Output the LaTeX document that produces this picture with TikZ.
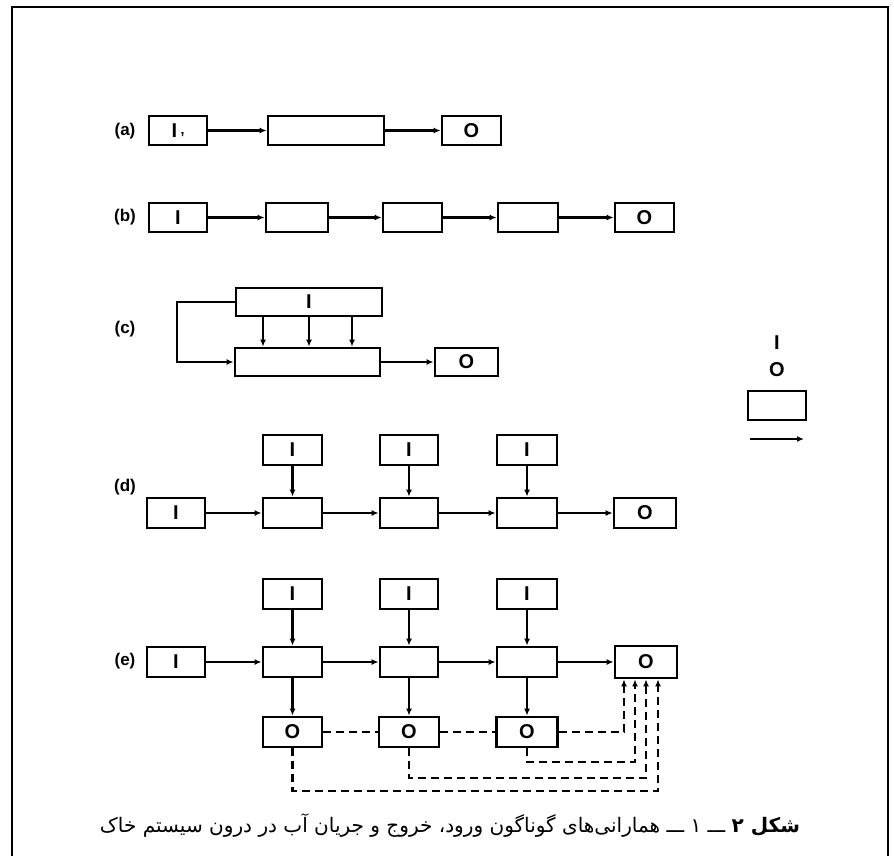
\documentclass[tikz,border=0pt]{standalone}
\usepackage{graphicx}
\usepackage{fontspec}
\setmainfont{Liberation Sans}
\setsansfont{Liberation Sans}
\newfontfamily\arabicfont[Script=Arabic]{DejaVu Sans}
\TeXXeTstate=1
\usetikzlibrary{arrows.meta}
\begin{document}
\begin{tikzpicture}[x=1pt,y=-1pt,
  box/.style={draw, line width=2.8pt, inner sep=0pt, minimum height=29pt,
    font=\bfseries\fontsize{20}{20}\selectfont},
  arr/.style={line width=2.1pt, -{Latex[length=7pt,width=6pt]}},
  dsh/.style={line width=2.6pt, dash pattern=on 8pt off 5pt},
  lab/.style={font=\bfseries\fontsize{17}{17}\selectfont},
  frame/.style={line width=2.2pt}]
\useasboundingbox (0,0) rectangle (894,856);

% frame
\coordinate (f1) at (12,856);
\coordinate (f2) at (12,7);
\coordinate (f3) at (888,7);
\coordinate (f4) at (888,856);
\draw[frame] (f1) -- (f2) -- (f3) -- (f4);

% labels
\node[lab] (la) at (125,131) {(a)};
\node[lab] (lb) at (125,217) {(b)};
\node[lab] (lc) at (125,329) {(c)};
\node[lab] (ld) at (125,487) {(d)};
\node[lab] (le) at (125,661) {(e)};

% (a)
\node[box, minimum width=58pt] (aI) at (178,130.5) {I\,\raisebox{3pt}{\fontsize{14}{14}\selectfont ,}};
\node[box, minimum width=116pt] (aM) at (326,130.5) {};
\node[box, minimum width=59pt] (aO) at (471.5,130.5) {O};
\draw[arr] (aI) -- (aM);
\draw[arr] (aM) -- (aO);

% (b)
\node[box, minimum width=58pt] (bI) at (178,217.5) {I};
\node[box, minimum width=62pt] (b1) at (297,217.5) {};
\node[box, minimum width=59pt] (b2) at (412.5,217.5) {};
\node[box, minimum width=60pt] (b3) at (528,217.5) {};
\node[box, minimum width=59pt] (bO) at (644.5,217.5) {O};
\draw[arr] (bI) -- (b1);
\draw[arr] (b1) -- (b2);
\draw[arr] (b2) -- (b3);
\draw[arr] (b3) -- (bO);

% (c)
\node[box, minimum width=146pt, minimum height=28pt] (cT) at (309,302) {I};
\node[box, minimum width=145pt, minimum height=28pt] (cB) at (307.5,362) {};
\node[box, minimum width=63pt, minimum height=28pt] (cO) at (466.5,362) {O};
\coordinate (cx1) at (263,330);
\coordinate (cx2) at (309,330);
\coordinate (cx3) at (352,330);
\coordinate (cfb) at (177,330);
\draw[arr] (cT.south -| cx1) -- (cB.north -| cx1);
\draw[arr] (cT.south -| cx2) -- (cB.north -| cx2);
\draw[arr] (cT.south -| cx3) -- (cB.north -| cx3);
\draw[arr] (cT.west) -| (cfb) |- (cB.west);
\draw[arr] (cB) -- (cO);

% (d)
\node[box, minimum width=59pt, minimum height=30pt] (dT1) at (292.5,450) {I};
\node[box, minimum width=58pt, minimum height=30pt] (dT2) at (409,450) {I};
\node[box, minimum width=60pt, minimum height=30pt] (dT3) at (527,450) {I};
\node[box, minimum width=58pt, minimum height=30pt] (dI) at (176,513) {I};
\node[box, minimum width=59pt, minimum height=30pt] (d1) at (292.5,513) {};
\node[box, minimum width=58pt, minimum height=30pt] (d2) at (409,513) {};
\node[box, minimum width=60pt, minimum height=30pt] (d3) at (527,513) {};
\node[box, minimum width=62pt, minimum height=30pt] (dO) at (645,513) {O};
\draw[arr] (dI) -- (d1);
\draw[arr] (d1) -- (d2);
\draw[arr] (d2) -- (d3);
\draw[arr] (d3) -- (dO);
\draw[arr] (dT1) -- (d1);
\draw[arr] (dT2) -- (d2);
\draw[arr] (dT3) -- (d3);

% (e)
\node[box, minimum width=59pt, minimum height=30pt] (eT1) at (292.5,594) {I};
\node[box, minimum width=58pt, minimum height=30pt] (eT2) at (409,594) {I};
\node[box, minimum width=60pt, minimum height=30pt] (eT3) at (527,594) {I};
\node[box, minimum width=58pt, minimum height=30pt] (eI) at (176,662) {I};
\node[box, minimum width=59pt, minimum height=30pt] (e1) at (292.5,662) {};
\node[box, minimum width=58pt, minimum height=30pt] (e2) at (409,662) {};
\node[box, minimum width=60pt, minimum height=30pt] (e3) at (527,662) {};
\node[box, minimum width=62pt, minimum height=32pt] (eO) at (646,662) {O};
\node[box, minimum width=59pt, minimum height=30pt] (eo1) at (292.5,732) {O};
\node[box, minimum width=60pt, minimum height=30pt] (eo2) at (409,732) {O};
\node[box, minimum width=61pt, minimum height=30pt] (eo3) at (527,732) {O};
\draw[arr] (eI) -- (e1);
\draw[arr] (e1) -- (e2);
\draw[arr] (e2) -- (e3);
\draw[arr] (e3) -- (eO);
\draw[arr] (eT1) -- (e1);
\draw[arr] (eT2) -- (e2);
\draw[arr] (eT3) -- (e3);
\draw[arr] (e1) -- (eo1);
\draw[arr] (e2) -- (eo2);
\draw[arr] (e3) -- (eo3);
\draw[dsh] (eo1) -- (eo2);
\draw[dsh] (eo2) -- (eo3);
\coordinate (ex1) at (624,700);
\coordinate (ey2) at (635,762);
\coordinate (ey3) at (646,778);
\coordinate (ey4) at (658,791);
\draw[arr, dsh] (eo3.east) -| (eO.south -| ex1);
\draw[arr, dsh] (eo3.south) |- (ey2) -- (eO.south -| ey2);
\draw[arr, dsh] (eo2.south) |- (ey3) -- (eO.south -| ey3);
\draw[arr, dsh] (eo1.south) |- (ey4) -- (eO.south -| ey4);

% legend
\node[box, draw=none] (lI) at (777,343) {I};
\node[box, draw=none] (lO) at (777,370) {O};
\node[box, minimum width=58pt] (lBox) at (777,405.5) {};
\coordinate (lA1) at (750,439);
\coordinate (lA2) at (804,439);
\draw[arr, line width=2.6pt] (lA1) -- (lA2);

% caption
\node (cap) at (450,826) {\resizebox{700pt}{!}{\arabicfont\beginR{\bfseries شکل ۲} ـــ ۱ ـــ همارانی‌های گوناگون ورود، خروج و جریان آب در درون سیستم خاک\endR}};
\end{tikzpicture}
\end{document}
